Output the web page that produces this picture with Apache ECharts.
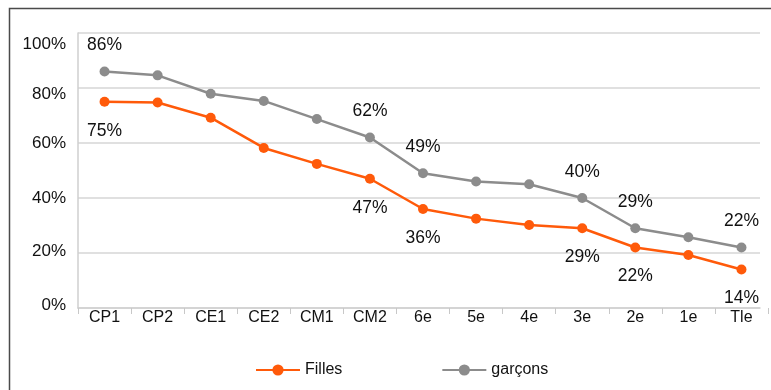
<!DOCTYPE html>
<html>
<head>
<meta charset="utf-8">
<script src="https://cdn.jsdelivr.net/npm/echarts@6/dist/echarts.min.js"></script>
<style>
  html, body { margin: 0; padding: 0; background: #fff; }
  #chart { width: 771px; height: 390px; }
</style>
</head>
<body>
<div id="chart"></div>
<script>
// Niveaux scolaires
const categories = ['CP1', 'CP2', 'CE1', 'CE2', 'CM1', 'CM2', '6e', '5e', '4e', '3e', '2e', '1e', 'Tle'];
// Pourcentages par niveau
const filles  = [75, 74.7, 69.2, 58.2, 52.4, 47, 36, 32.5, 30.2, 29, 22, 19.3, 14];
const garcons = [86, 84.6, 77.9, 75.3, 68.7, 62, 49, 46, 45, 40, 29, 25.7, 22];
// Niveaux dont la valeur est affichée
const labelledIdx = [0, 5, 6, 9, 10, 12];
const yTicks = [0, 20, 40, 60, 80, 100];

const FONT = '"Liberation Sans", Arial, Helvetica, sans-serif';
const ORANGE = '#ff5a0a';
const GREY = '#8c8c8c';

function withLabels(values, distance, position) {
  return values.map((v, i) => labelledIdx.includes(i)
    ? { value: v, label: { show: true, position: position, distance: distance } }
    : v);
}

// small vertical nudges for the y tick labels
const yNudge = { 0: -5, 20: -4, 40: 0, 60: 1, 80: 12, 100: 22 };
const yRich = {};
yTicks.forEach(t => {
  const n = yNudge[t];
  yRich['t' + t] = {
    fontFamily: FONT, fontSize: 17, color: '#111',
    padding: n >= 0 ? [n, 0, 0, 0] : [0, 0, -n, 0]
  };
});

const chart = echarts.init(document.getElementById('chart'), null, { renderer: 'canvas' });
chart.setOption({
  animation: false,
  backgroundColor: '#fff',
  graphic: [{
    type: 'rect',
    shape: { x: 9.5, y: 8.5, width: 800, height: 420 },
    style: { fill: 'none', stroke: '#4a4a4a', lineWidth: 1.5 },
    silent: true
  }],
  legend: {
    data: ['Filles', 'garçons'],
    left: 255,
    top: 362,
    padding: 0,
    itemWidth: 44,
    itemHeight: 14,
    itemGap: 99,
    textStyle: { fontFamily: FONT, fontSize: 16, color: '#111' }
  },
  grid: [
    { left: 78, right: 3, top: 33, bottom: 82 },
    { left: 78, right: 11, top: 33, bottom: 82 }
  ],
  xAxis: [
    {
      type: 'category',
      gridIndex: 0,
      data: categories,
      boundaryGap: true,
      axisLine: { show: false },
      axisTick: { show: true, length: 6, lineStyle: { color: '#c8c8c8' } },
      axisLabel: { fontFamily: FONT, fontSize: 16, color: '#111', margin: 2, interval: 0 }
    },
    {
      type: 'value',
      gridIndex: 1,
      min: 0, max: 1,
      axisLine: { show: true, lineStyle: { color: '#cfcfcf', width: 1.5 } },
      axisTick: { show: false },
      axisLabel: { show: false },
      splitLine: { show: false }
    }
  ],
  yAxis: [
    {
      type: 'value',
      gridIndex: 0,
      min: 0, max: 100, interval: 20,
      axisLine: { show: false },
      axisTick: { show: false },
      splitLine: { show: false },
      axisLabel: {
        margin: 12,
        formatter: v => '{t' + v + '|' + v + '%}',
        rich: yRich
      }
    },
    {
      type: 'value',
      gridIndex: 1,
      min: 0, max: 100, interval: 20,
      axisLine: { show: true, lineStyle: { color: '#cfcfcf', width: 1.5 } },
      axisTick: { show: false },
      axisLabel: { show: false },
      splitLine: { show: true, lineStyle: { color: '#d6d6d6', width: 1.5 } }
    }
  ],
  series: [
    {
      name: 'Filles',
      type: 'line',
      xAxisIndex: 0, yAxisIndex: 0,
      data: withLabels(filles, 15, 'bottom'),
      symbol: 'circle',
      symbolSize: 10,
      lineStyle: { color: ORANGE, width: 2.5 },
      itemStyle: { color: ORANGE },
      label: {
        show: false,
        fontFamily: FONT, fontSize: 17.5, color: '#111',
        formatter: p => Math.round(p.value) + '%'
      },
      z: 3
    },
    {
      name: 'garçons',
      type: 'line',
      xAxisIndex: 0, yAxisIndex: 0,
      data: withLabels(garcons, 12, 'top'),
      symbol: 'circle',
      symbolSize: 10,
      lineStyle: { color: GREY, width: 2.5 },
      itemStyle: { color: GREY },
      label: {
        show: false,
        fontFamily: FONT, fontSize: 17.5, color: '#111',
        formatter: p => Math.round(p.value) + '%'
      },
      z: 2
    }
  ]
});
</script>
</body>
</html>
